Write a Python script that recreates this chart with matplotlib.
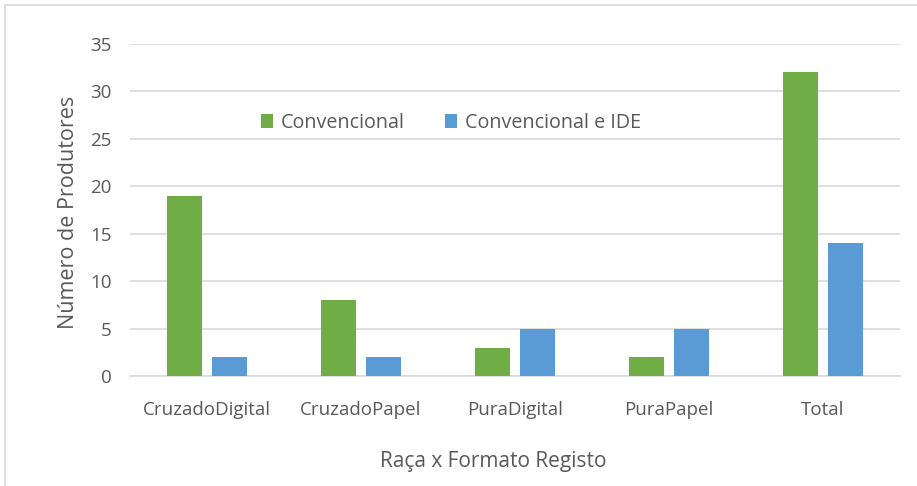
import matplotlib
matplotlib.use("Agg")
import matplotlib.pyplot as plt
import numpy as np
from matplotlib.patches import Rectangle

categories = ["CruzadoDigital", "CruzadoPapel", "PuraDigital", "PuraPapel", "Total"]
convencional = [19, 8, 3, 2, 32]
conv_ide = [2, 2, 5, 5, 14]
series_names = ["Convencional", "Convencional e IDE"]

plt.rcParams['font.family'] = ['Open Sans', 'DejaVu Sans']
txt = '#595959'
green = '#70ad47'
blue = '#5b9bd5'

W, H = 917, 486
fig = plt.figure(figsize=(W/100, H/100), dpi=100)
fig.patches.append(Rectangle((5/W, -0.1), 1.2, 1 - 5/H + 0.1, transform=fig.transFigure,
                             fill=False, edgecolor='#d9d9d9', linewidth=1.2))
L, R, T, B = 130, 900, 44, 376
ax = fig.add_axes([L/W, 1 - B/H, (R - L)/W, (B - T)/H])

x = np.arange(len(categories))
w = 0.227
off = 0.144
ax.bar(x - off, convencional, w, color=green, label=series_names[0], zorder=3)
ax.bar(x + off, conv_ide, w, color=blue, label=series_names[1], zorder=3)

ax.set_xlim(-0.5, len(categories) - 0.5)
ax.set_ylim(0, 35)
ax.set_yticks(range(0, 36, 5))
ax.yaxis.grid(True, color='#d9d9d9', linewidth=1.2, zorder=0)
ax.set_axisbelow(True)
for s in ['top', 'right', 'left']:
    ax.spines[s].set_visible(False)
ax.spines['bottom'].set_color('#d9d9d9')
ax.spines['bottom'].set_linewidth(1.2)
ax.tick_params(axis='both', length=0, labelcolor=txt)
ax.tick_params(axis='y', pad=13, labelsize=13.5)
ax.tick_params(axis='x', pad=18, labelsize=13.5)
ax.set_xticks(x)
ax.set_xticklabels(categories)

fig.text(68/W, 1 - 212/H, "Número de Produtores", fontsize=15.5, color=txt,
         rotation=90, ha='center', va='center')
fig.text(493/W, 1 - 461/H, "Raça x Formato Registo", fontsize=15, color=txt,
         ha='center', va='center')

leg = ax.legend(loc='center', bbox_to_anchor=((451 - L)/(R - L), (B - 123)/(B - T)), ncol=2,
                frameon=False, fontsize=14.2, handlelength=0.65, handleheight=0.65,
                columnspacing=2.0, handletextpad=0.4, borderaxespad=0, borderpad=0)
for t in leg.get_texts():
    t.set_color(txt)

fig.savefig("out.png", dpi=100)
